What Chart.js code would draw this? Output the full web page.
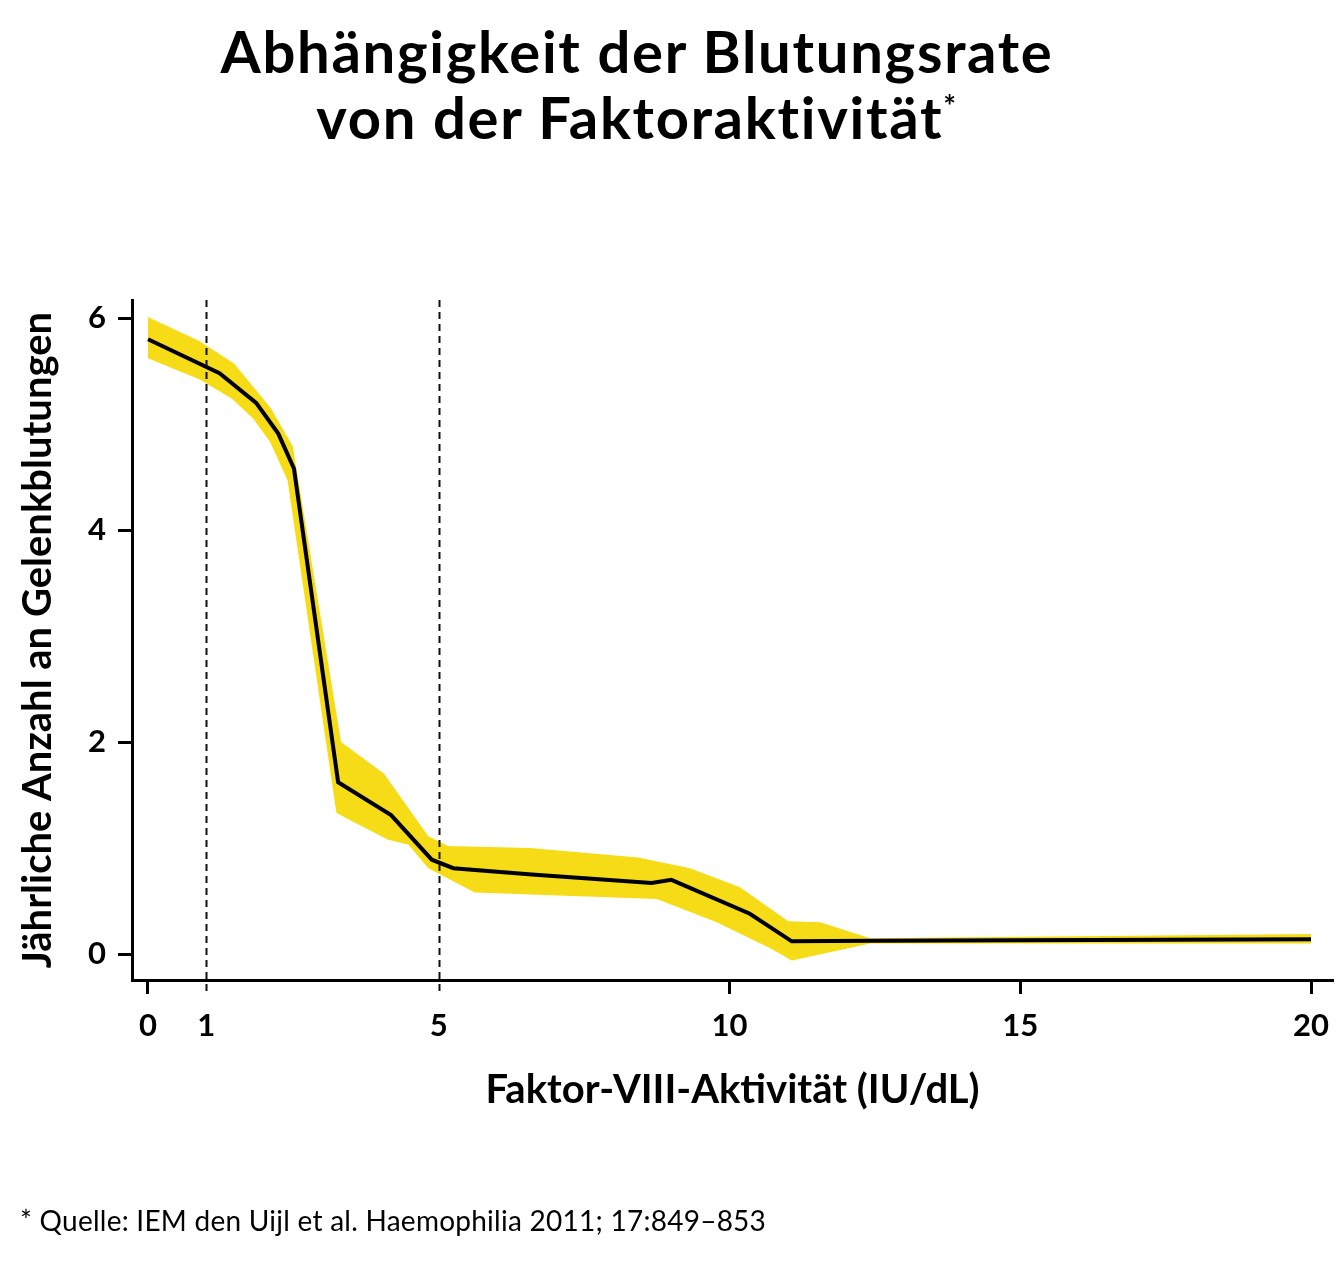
<!DOCTYPE html>
<html>
<head>
<meta charset="utf-8">
<script src="https://cdn.jsdelivr.net/npm/chart.js@4.4.1/dist/chart.umd.min.js"></script>
<style>
  html, body { margin: 0; padding: 0; background: #fff; }
  #wrap { position: relative; width: 1344px; height: 1273px; }
  #chart { position: absolute; left: 0; top: 0; }
  .title {
    position: absolute; left: 0; top: 18px; width: 1274px;
    text-align: center; font: 700 58px Lato; line-height: 66px; color: #000;
    letter-spacing: 1.7px;
  }
  .title .star { font-size: 30px; position: relative; top: -22px; }
  .note {
    position: absolute; left: 20px; top: 1203px;
    font: 400 28px Lato; color: #000; letter-spacing: 0.25px;
  }
</style>
</head>
<body>
<div id="wrap">
  <canvas id="chart" width="1344" height="1273"></canvas>
  <div class="title">Abhängigkeit der Blutungsrate<br>von der Faktoraktivität<span class="star">*</span></div>
  <div class="note">* Quelle: IEM den Uijl et al. Haemophilia 2011; 17:849–853</div>
</div>
<script>
// ── Data ──────────────────────────────────────────────
const LINE_X  = [0, 1.23, 1.86, 2.24, 2.51, 3.27, 4.18, 4.88, 5.25, 6.6, 8.66, 9.0, 10.35, 11.07, 12.47, 20];
const LINE_Y  = [5.80, 5.48, 5.20, 4.91, 4.58, 1.62, 1.31, 0.89, 0.81, 0.75, 0.67, 0.70, 0.38, 0.12, 0.125, 0.14];

const UPPER_X = [0, 0.89, 1.48, 2.11, 2.49, 3.32, 4.06, 4.82, 5.16, 6.57, 8.43, 9.32, 10.18, 11.01, 11.56, 12.42, 20];
const UPPER_Y = [6.01, 5.78, 5.57, 5.15, 4.79, 2.00, 1.70, 1.11, 1.02, 1.00, 0.91, 0.81, 0.63, 0.31, 0.30, 0.15, 0.19];

const LOWER_X = [0, 0.89, 1.44, 1.81, 2.10, 2.40, 3.24, 4.12, 4.48, 4.82, 5.62, 8.75, 9.78, 10.72, 11.07, 12.42, 20];
const LOWER_Y = [5.62, 5.42, 5.24, 5.05, 4.83, 4.47, 1.33, 1.08, 1.03, 0.81, 0.58, 0.52, 0.30, 0.05, -0.06, 0.10, 0.10];

const X_TICKS = [0, 1, 5, 10, 15, 20];
const Y_TICKS = [0, 2, 4, 6];
const REF_LINES = [1, 5];          // dashed verticals

const X_TITLE = 'Faktor-VIII-Aktivität (IU/dL)';
const Y_TITLE = 'Jährliche Anzahl an Gelenkblutungen';

const YELLOW = '#F5DC16';
const INK = '#000';

const pts = (xs, ys) => xs.map((x, i) => ({ x, y: ys[i] }));

// ── Dashed reference lines ────────────────────────────
const refLines = {
  id: 'refLines',
  afterDatasetsDraw(chart) {
    const { ctx, chartArea, scales: { x } } = chart;
    ctx.save();
    ctx.strokeStyle = '#111';
    ctx.lineWidth = 2;
    ctx.setLineDash([7, 5]);
    REF_LINES.forEach(v => {
      const px = Math.round(x.getPixelForValue(v)) + 0.5;
      ctx.beginPath();
      ctx.moveTo(px, chartArea.top);
      ctx.lineTo(px, chartArea.bottom + 15);
      ctx.stroke();
    });
    ctx.restore();
  }
};

Chart.defaults.font.family = 'Lato';
Chart.defaults.color = INK;

new Chart(document.getElementById('chart'), {
  type: 'line',
  data: {
    datasets: [
      { label: 'upper', data: pts(UPPER_X, UPPER_Y), borderWidth: 0, pointRadius: 0,
        backgroundColor: YELLOW, fill: '+1', order: 1 },
      { label: 'lower', data: pts(LOWER_X, LOWER_Y), borderWidth: 0, pointRadius: 0,
        fill: false, order: 2 },
      { label: 'rate', data: pts(LINE_X, LINE_Y), borderColor: INK, borderWidth: 4,
        pointRadius: 0, fill: false, order: 0, borderJoinStyle: 'miter' },
    ]
  },
  options: {
    responsive: false,
    animation: false,
    layout: { padding: { left: 0, right: 11, top: 300, bottom: 0 } },
    plugins: { legend: { display: false }, tooltip: { enabled: false } },
    scales: {
      x: {
        type: 'linear', min: -0.275, max: 20.378,
        afterBuildTicks: s => { s.ticks = X_TICKS.map(v => ({ value: v })); },
        afterFit: s => { s.height = 293; },
        border: { display: true, color: INK, width: 3 },
        grid: {
          drawOnChartArea: false, drawTicks: true, tickLength: 14, tickWidth: 3,
          tickColor: c => REF_LINES.includes(c.tick && c.tick.value) ? 'rgba(0,0,0,0)' : INK
        },
        ticks: { font: { size: 31, weight: 'bold' }, color: INK, padding: 13, maxRotation: 0 },
        title: { display: true, text: X_TITLE, color: INK,
                 font: { size: 40, weight: 'bold' }, padding: { top: 0, bottom: 159 } }
      },
      y: {
        type: 'linear', min: -0.245, max: 6.17,
        afterBuildTicks: s => { s.ticks = Y_TICKS.map(v => ({ value: v })); },
        afterFit: s => { s.width = 132; },
        border: { display: true, color: INK, width: 3 },
        grid: { drawOnChartArea: false, drawTicks: true, tickLength: 14, tickWidth: 3, tickColor: INK },
        ticks: { font: { size: 31, weight: 'bold' }, color: INK, padding: 12 },
        title: { display: true, text: Y_TITLE, color: INK,
                 font: { size: 40, weight: 'bold' }, padding: { top: 14, bottom: 0 } }
      }
    }
  },
  plugins: [refLines]
});
</script>
</body>
</html>
